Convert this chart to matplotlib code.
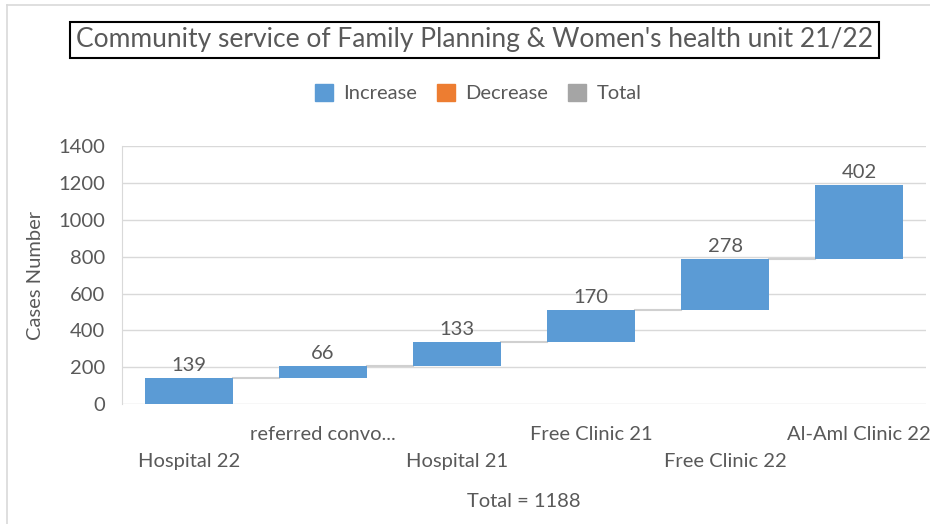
import numpy as np
import matplotlib.pyplot as plt
from matplotlib.patches import Patch
from matplotlib.lines import Line2D

categories = ["Hospital 22", "referred convo...", "Hospital 21", "Free Clinic 21",
              "Free Clinic 22", "Al-Aml Clinic 22"]
increments = [139, 66, 133, 170, 278, 402]
total_label = "Total = 1188"

plt.rcParams['font.family'] = ['Lato', 'DejaVu Sans']

blue = '#5b9bd5'
orange = '#ed7d31'
grey = '#a5a5a5'
text_col = '#595959'

fig = plt.figure(figsize=(9.3, 5.24), dpi=100)
ax = fig.add_axes([0.131, 0.229, 0.865, 0.492])

# light frame of the chart area (only top and left edges visible in the crop)
fig.add_artist(Line2D([0.0075, 1.0], [0.990, 0.990], transform=fig.transFigure,
                      color='#d9d9d9', lw=1.2))
fig.add_artist(Line2D([0.0075, 0.0075], [0.0, 0.990], transform=fig.transFigure,
                      color='#d9d9d9', lw=1.2))

vals = np.array(increments)
bottoms = np.concatenate([[0], np.cumsum(vals)[:-1]])
tops = bottoms + vals
x = np.arange(len(vals))
w = 0.66

ax.bar(x, vals, bottom=bottoms, width=w, color=blue, zorder=3)
for i in range(len(vals) - 1):
    ax.plot([x[i] + w / 2, x[i + 1] - w / 2], [tops[i], tops[i]],
            color='#d0d0d0', lw=1.5, zorder=2)
for xi, t, v in zip(x, tops, vals):
    ax.text(xi, t + 22, str(v), ha='center', va='bottom', fontsize=14.5, color=text_col)

ax.set_xlim(-0.5, len(vals) - 0.5)
ax.set_ylim(0, 1400)
ax.set_yticks(np.arange(0, 1401, 200))
ax.tick_params(axis='y', labelsize=14.5, labelcolor=text_col, length=0, pad=12)
ax.grid(axis='y', color='#d9d9d9', lw=1, zorder=0)
ax.set_axisbelow(True)
for s in ['top', 'right', 'bottom']:
    ax.spines[s].set_visible(False)
ax.spines['left'].set_color('#d9d9d9')

ax.set_xticks(x)
ax.set_xticklabels([])
ax.tick_params(axis='x', length=0)
for i, c in enumerate(categories):
    off = 57 if i % 2 == 0 else 30
    ax.annotate(c, xy=(x[i], 0), xycoords=('data', 'axes fraction'),
                xytext=(0, -off), textcoords='offset pixels',
                ha='center', va='center', fontsize=14.5, color=text_col)

ax.set_ylabel("Cases Number", fontsize=14.5, color=text_col, labelpad=10)
ax.text(0.5, -0.38, total_label, transform=ax.transAxes, ha='center', va='center',
        fontsize=14.5, color=text_col)

fig.text(0.51, 0.924, "Community service of Family Planning & Women's health unit 21/22",
         ha='center', va='center', fontsize=19, color=text_col,
         bbox=dict(boxstyle='square,pad=0.22', facecolor='white', edgecolor='black', lw=1.5))

handles = [Patch(color=blue, label='Increase'), Patch(color=orange, label='Decrease'),
           Patch(color=grey, label='Total')]
leg = fig.legend(handles=handles, loc='center', bbox_to_anchor=(0.514, 0.822), ncol=3,
                 frameon=False, fontsize=14.5, handlelength=0.9, handleheight=0.9,
                 columnspacing=1.0, handletextpad=0.5)
for t in leg.get_texts():
    t.set_color(text_col)

fig.savefig('out.png', dpi=100, facecolor='white')
